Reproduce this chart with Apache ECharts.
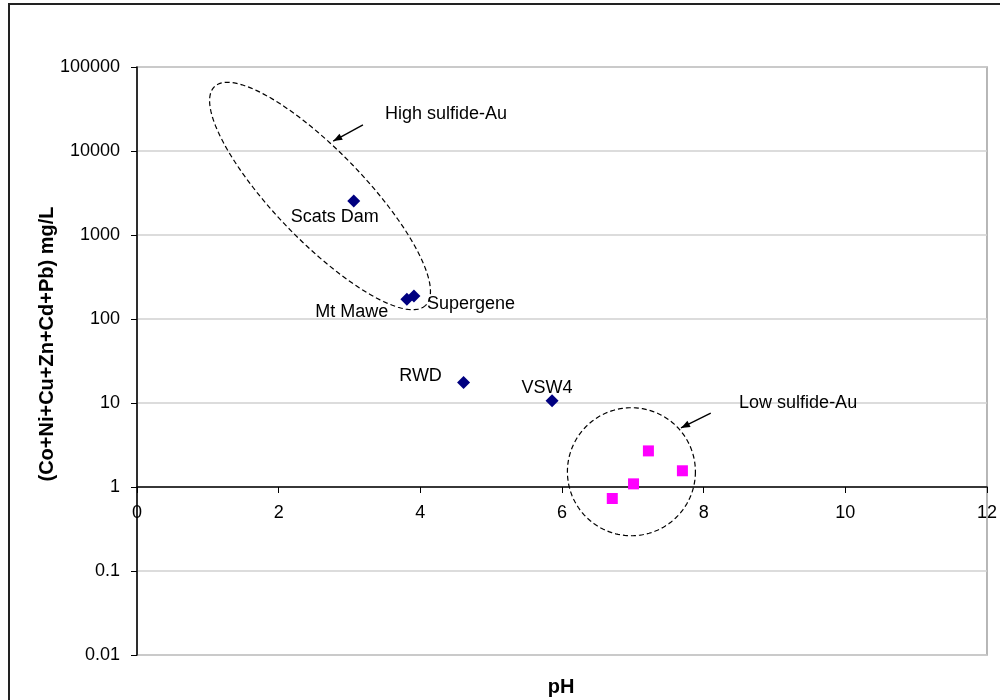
<!DOCTYPE html>
<html><head><meta charset="utf-8">
<script src="https://cdn.jsdelivr.net/npm/echarts@6/dist/echarts.min.js"></script>
<style>html,body{margin:0;padding:0;background:#fff}#c{width:1000px;height:700px}</style>
</head><body><div id="c"></div>
<script>
// ---- data ----
const highNames = ['Scats Dam', 'Mt Mawe', 'Supergene', 'RWD', 'VSW4'];
const highPH = [3.06, 3.81, 3.91, 4.61, 5.86];
const highMetals = [2540, 172, 188, 17.5, 10.6];
const lowPH = [6.71, 7.01, 7.22, 7.70];
const lowMetals = [0.73, 1.09, 2.69, 1.56];
const xTickValues = [0, 2, 4, 6, 8, 10, 12];
const yTickLabels = ['0.01', '0.1', '1', '10', '100', '1000', '10000', '100000'];
const groupNames = ['High sulfide-Au', 'Low sulfide-Au'];
const xTitle = 'pH';
const yTitle = '(Co+Ni+Cu+Zn+Cd+Pb) mg/L';

// ---- layout / style ----
const FONT = "'Liberation Sans', Arial, sans-serif";
const FS = 18;
const labelLayout = {
  'Scats Dam': [-19, 16], 'Mt Mawe': [-55, 13], 'Supergene': [57, 8],
  'RWD': [-43, -7], 'VSW4': [-5, -13]
};

const chart = echarts.init(document.getElementById('c'), null, {renderer: 'canvas'});
const option = {
  animation: false,
  backgroundColor: '#fff',
  grid: {left: 137, right: 13, top: 67, bottom: 45, show: true,
         borderColor: '#a0a0a0', borderWidth: 1.5, backgroundColor: 'transparent'},
  xAxis: {
    type: 'value', min: xTickValues[0], max: xTickValues[xTickValues.length - 1], interval: 2,
    position: 'bottom', offset: -168,
    axisLine: {onZero: false, lineStyle: {color: '#000', width: 1.5}},
    axisTick: {show: true, inside: false, length: 6, lineStyle: {color: '#000'}},
    axisLabel: {margin: 17, fontSize: FS, color: '#000', fontFamily: FONT},
    splitLine: {show: false}
  },
  yAxis: {
    type: 'log', logBase: 10, min: 0.01, max: 100000, splitNumber: 7,
    axisLine: {show: true, lineStyle: {color: '#000', width: 1.5}},
    axisTick: {show: true, inside: false, length: 6, lineStyle: {color: '#000'}},
    axisLabel: {margin: 17, fontSize: FS, color: '#000', fontFamily: FONT,
      formatter: v => yTickLabels[Math.round(Math.log10(v)) + 2]},
    splitLine: {show: true, lineStyle: {color: '#d0d0d0', width: 1.5}},
    minorTick: {show: false}
  },
  series: [
    {
      type: 'scatter', name: groupNames[0], symbol: 'diamond', symbolSize: 13,
      itemStyle: {color: '#000080', opacity: 1},
      data: highPH.map((x, i) => ({
        value: [x, highMetals[i]], name: highNames[i],
        label: {show: true, position: 'inside', offset: labelLayout[highNames[i]],
          formatter: highNames[i], color: '#000', opacity: 1, fontSize: FS, fontFamily: FONT}
      })),
      z: 5
    },
    {
      type: 'scatter', name: groupNames[1], symbol: 'rect', symbolSize: 11,
      itemStyle: {color: '#ff00ff', opacity: 1},
      data: lowPH.map((x, i) => [x, lowMetals[i]]),
      z: 5
    }
  ]
};
chart.setOption(option);

// ---- annotations (positioned in data space, converted through the axes) ----
const annotations = {
  high: {center: [2.584, 2911], a: 152, b: 45, angleDeg: 46,
         arrowFrom: [3.19, 20400], arrowTo: [2.77, 13150], text: [3.50, 27500]},
  low: {center: [6.98, 1.52], a: 64, b: 64, angleDeg: 0,
        arrowFrom: [8.10, 7.6], arrowTo: [7.68, 5.04], text: [8.50, 10.0]}
};
function px(p) { return chart.convertToPixel({gridIndex: 0}, p); }
function ellipsePts(c, a, b, deg) {
  const t = deg * Math.PI / 180, pts = [];
  for (let i = 0; i <= 180; i++) {
    const s = i / 180 * Math.PI * 2;
    const ex = a * Math.cos(s), ey = b * Math.sin(s);
    pts.push([c[0] + ex * Math.cos(t) - ey * Math.sin(t), c[1] + ex * Math.sin(t) + ey * Math.cos(t)]);
  }
  return pts;
}
const graphics = [];
graphics.push({type: 'rect', shape: {x: 9, y: 4, width: 1100, height: 900},
  style: {fill: 'none', stroke: '#222', lineWidth: 2}, z: 100, silent: true});
Object.keys(annotations).forEach((k, idx) => {
  const an = annotations[k];
  const c = px(an.center);
  graphics.push({type: 'polyline', shape: {points: ellipsePts(c, an.a, an.b, an.angleDeg)},
    style: {stroke: '#000', lineWidth: 1.2, lineDash: [5, 3], fill: 'none'}, z: 50, silent: true});
  const f = px(an.arrowFrom), t = px(an.arrowTo);
  graphics.push({type: 'line', shape: {x1: f[0], y1: f[1], x2: t[0], y2: t[1]},
    style: {stroke: '#000', lineWidth: 1.4}, z: 50, silent: true});
  const dx = t[0] - f[0], dy = t[1] - f[1], L = Math.hypot(dx, dy);
  const ux = dx / L, uy = dy / L, hl = 9, hw = 3.5;
  graphics.push({type: 'polygon', shape: {points: [
    [t[0], t[1]],
    [t[0] - ux * hl - uy * hw, t[1] - uy * hl + ux * hw],
    [t[0] - ux * hl + uy * hw, t[1] - uy * hl - ux * hw]]},
    style: {fill: '#000'}, z: 50, silent: true});
  const tp = px(an.text);
  graphics.push({type: 'text', x: tp[0], y: tp[1], style: {text: groupNames[idx],
    font: FS + 'px ' + FONT, fill: '#000', textAlign: 'left', textVerticalAlign: 'middle'}, z: 50});
});
graphics.push({type: 'text', x: 561, y: 687, style: {text: xTitle,
  font: 'bold 20px ' + FONT, fill: '#000', textAlign: 'center', textVerticalAlign: 'middle'}});
graphics.push({type: 'text', x: 47, y: 344, rotation: Math.PI / 2, style: {text: yTitle,
  font: 'bold 20px ' + FONT, fill: '#000', textAlign: 'center', textVerticalAlign: 'middle'}});
chart.setOption({graphic: graphics});
</script>
</body></html>
